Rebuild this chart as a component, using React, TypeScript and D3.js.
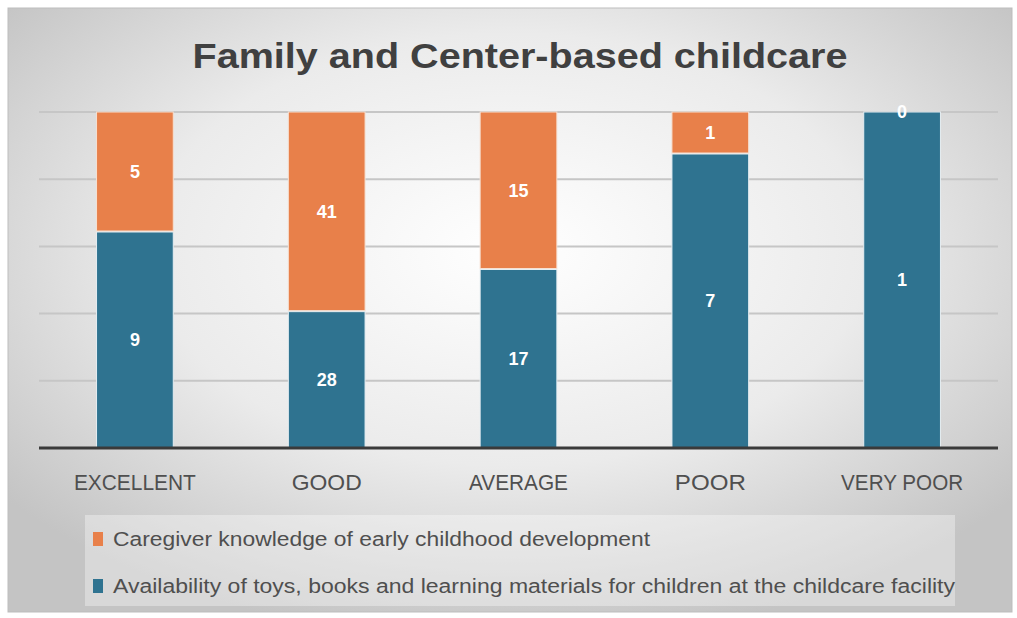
import React from "react";
import * as d3 from "d3";

const categories = ["EXCELLENT", "GOOD", "AVERAGE", "POOR", "VERY POOR"];
const availability = [9, 28, 17, 7, 1];
const caregiver = [5, 41, 15, 1, 0];
const seriesNames = [
  "Caregiver knowledge of early childhood development",
  "Availability of toys, books and learning materials for children at the childcare facility",
];
const gridTicks = [0, 0.2, 0.4, 0.6, 0.8, 1];

const ORANGE = "#e8804a";
const BLUE = "#2f7390";
const TEXT = "#404040";
const LABEL = "#4f4f4f";
const SANS = "'Liberation Sans', Arial, sans-serif";

export default function App() {
  const x = d3.scaleBand<string>().domain(categories).range([39, 998]).paddingInner(0.6).paddingOuter(0.3);
  const y = d3.scaleLinear().domain([0, 1]).range([448, 112]);
  const bw = x.bandwidth();
  const rows = categories.map((c, i) => ({ c, a: availability[i], g: caregiver[i], t: availability[i] + caregiver[i] }));
  const labelWidths = [122, 70, 99, 71, 122];
  return (
    <svg width={1017} height={618} style={{ position: "absolute", left: 0, top: 0 }}>
      <defs>
        <radialGradient id="bg" cx="50%" cy="40%" r="65%">
          <stop offset="0%" stopColor="#ffffff" />
          <stop offset="55%" stopColor="#ebebeb" />
          <stop offset="100%" stopColor="#c4c4c4" />
        </radialGradient>
      </defs>
      <rect x={8} y={8} width={1004} height={604} fill="url(#bg)" stroke="#bdbdbd" strokeWidth={1} />
      <text x={520} y={68} textAnchor="middle" fontFamily={SANS} fontWeight="bold" fontSize={35} fill={TEXT} textLength={655} lengthAdjust="spacingAndGlyphs">
        Family and Center-based childcare
      </text>
      {gridTicks.slice(1).map((t) => (
        <line key={t} x1={39} x2={998} y1={y(t)} y2={y(t)} stroke="#c6c6c6" strokeWidth={2} />
      ))}
      {rows.map((r) => {
        const x0 = x(r.c)!;
        const split = y(r.a / r.t);
        return (
          <g key={r.c}>
            <rect x={x0} y={split} width={bw} height={y(0) - split} fill={BLUE} stroke="#e6eef2" strokeWidth={1} />
            {r.g > 0 && (
              <rect x={x0} y={y(1)} width={bw} height={split - y(1) - 1} fill={ORANGE} stroke="#f6e0d2" strokeWidth={1} />
            )}
          </g>
        );
      })}
      {rows.map((r) => {
        const cx = x(r.c)! + bw / 2;
        const split = y(r.a / r.t);
        return (
          <g key={r.c + "l"} fontFamily={SANS} fontWeight="bold" fontSize={18} fill="#ffffff" textAnchor="middle">
            <text x={cx} y={(split + y(0)) / 2 + 6}>{r.a}</text>
            <text x={cx} y={(y(1) + split) / 2 + 6}>{r.g}</text>
          </g>
        );
      })}
      <line x1={39} x2={998} y1={y(0)} y2={y(0)} stroke="#3a3a3a" strokeWidth={3} />
      {categories.map((c, i) => (
        <text key={c} x={x(c)! + bw / 2} y={490} textAnchor="middle" fontFamily={SANS} fontSize={22} fill={LABEL} textLength={labelWidths[i]} lengthAdjust="spacingAndGlyphs">
          {c}
        </text>
      ))}
      <rect x={85} y={515} width={870} height={91} fill="#ffffff" opacity={0.35} />
      <rect x={93} y={532} width={10} height={14} fill={ORANGE} />
      <text x={113} y={546} fontFamily={SANS} fontSize={20} fill={LABEL} textLength={537} lengthAdjust="spacingAndGlyphs">{seriesNames[0]}</text>
      <rect x={93} y={579} width={10} height={14} fill={BLUE} />
      <text x={113} y={593} fontFamily={SANS} fontSize={20} fill={LABEL} textLength={842} lengthAdjust="spacingAndGlyphs">{seriesNames[1]}</text>
    </svg>
  );
}
